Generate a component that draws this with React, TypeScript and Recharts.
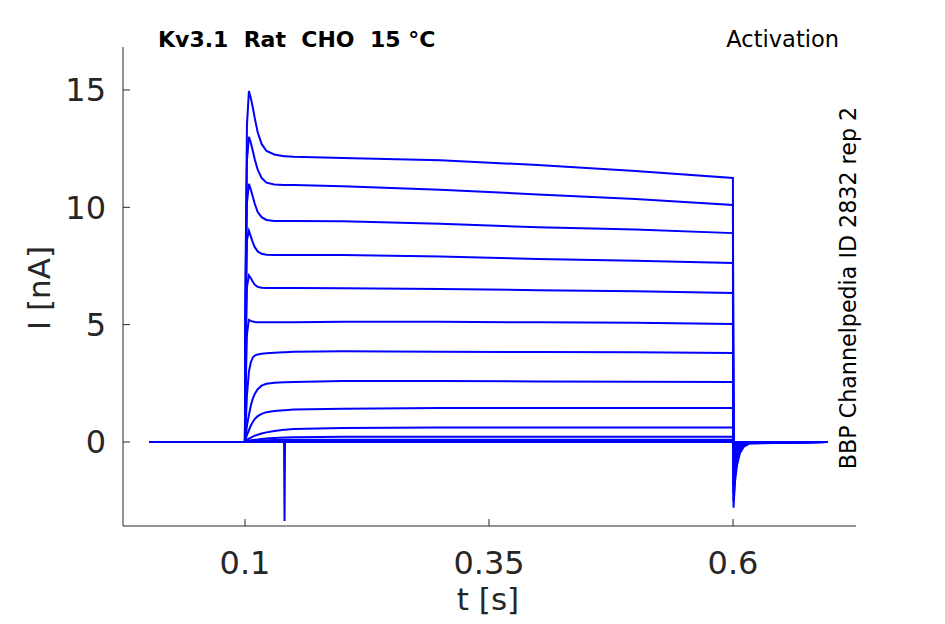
import { LineChart, Line, XAxis, YAxis, Label } from 'recharts';

// sample times (s)
const times = [
  0.002, 0.0999, 0.1005, 0.102, 0.104, 0.106, 0.108, 0.11, 0.113, 0.117, 0.122, 0.13, 0.14, 0.1405,
  0.141, 0.15, 0.2, 0.3, 0.4, 0.5, 0.5999, 0.6005, 0.602, 0.604, 0.607, 0.611, 0.617, 0.697,
];

// current traces (nA), one per voltage step
const trace1 = [0, 0, 7.0, 13.5, 14.95, 14.65, 14.25, 13.8, 13.2, 12.7, 12.4, 12.25, 12.18, 12.18, 12.18, 12.15, 12.1, 12.0, 11.8, 11.55, 11.25, -2.8, -1.7, -1.0, -0.48, -0.2, -0.06, 0];
const trace2 = [0, 0, 6.0, 12.0, 13.0, 12.75, 12.4, 12.05, 11.6, 11.25, 11.05, 10.97, 10.95, 10.95, 10.95, 10.95, 10.9, 10.75, 10.55, 10.35, 10.1, -2.5, -1.5, -0.88, -0.43, -0.18, -0.05, 0];
const trace3 = [0, 0, 5.0, 10.2, 11.0, 10.75, 10.45, 10.15, 9.8, 9.58, 9.46, 9.42, 9.42, 9.42, 9.42, 9.42, 9.4, 9.3, 9.15, 9.05, 8.9, -2.2, -1.3, -0.77, -0.37, -0.15, -0.04, 0];
const trace4 = [0, 0, 4.0, 8.6, 9.0, 8.75, 8.5, 8.3, 8.12, 8.02, 7.98, 7.97, 7.97, 7.97, 7.97, 7.97, 7.97, 7.9, 7.8, 7.72, 7.63, -1.9, -1.15, -0.66, -0.32, -0.13, -0.04, 0];
const trace5 = [0, 0, 3.0, 6.6, 7.1, 6.98, 6.83, 6.7, 6.61, 6.57, 6.56, 6.56, 6.56, 6.56, 6.56, 6.56, 6.55, 6.52, 6.47, 6.42, 6.35, -1.6, -0.96, -0.56, -0.27, -0.11, -0.03, 0];
const trace6 = [0, 0, 2.0, 4.6, 5.2, 5.16, 5.13, 5.11, 5.1, 5.1, 5.1, 5.1, 5.1, 5.1, 5.1, 5.1, 5.12, 5.12, 5.1, 5.08, 5.03, -1.3, -0.78, -0.45, -0.22, -0.09, -0.03, 0];
const trace7 = [0, 0, 0.5, 2.0, 3.0, 3.4, 3.6, 3.68, 3.73, 3.76, 3.78, 3.8, 3.82, 3.82, 3.82, 3.84, 3.87, 3.85, 3.83, 3.82, 3.79, -1.0, -0.6, -0.35, -0.17, -0.07, -0.02, 0];
const trace8 = [0, 0, 0.2, 0.7, 1.15, 1.55, 1.85, 2.05, 2.25, 2.4, 2.48, 2.52, 2.54, 2.54, 2.54, 2.56, 2.6, 2.6, 2.58, 2.57, 2.56, -0.7, -0.42, -0.25, -0.12, -0.05, -0.01, 0];
const trace9 = [0, 0, 0.1, 0.3, 0.5, 0.7, 0.85, 0.98, 1.1, 1.2, 1.27, 1.32, 1.35, 1.35, 1.35, 1.38, 1.42, 1.45, 1.45, 1.45, 1.45, -0.45, -0.27, -0.16, -0.08, -0.03, -0.01, 0];
const trace10 = [0, 0, 0.02, 0.08, 0.14, 0.19, 0.23, 0.27, 0.31, 0.36, 0.41, 0.47, 0.52, 0.52, 0.52, 0.55, 0.6, 0.62, 0.62, 0.62, 0.62, -0.25, -0.15, -0.09, -0.04, -0.02, 0, 0];
const trace11 = [0, 0, 0.01, 0.03, 0.05, 0.07, 0.08, 0.1, 0.11, 0.13, 0.15, 0.17, 0.19, 0.19, 0.19, 0.2, 0.22, 0.22, 0.22, 0.22, 0.22, -0.12, -0.07, -0.04, -0.02, -0.01, 0, 0];
const trace12 = [0, 0, 0, 0.01, 0.02, 0.03, 0.04, 0.05, 0.05, 0.06, 0.07, 0.08, 0.09, 0.09, 0.09, 0.09, 0.1, 0.1, 0.1, 0.1, 0.1, -0.06, -0.03, -0.02, -0.01, 0, 0, 0];
const trace13 = [0, 0, 0, 0, 0.01, 0.01, 0.01, 0.02, 0.02, 0.02, 0.03, 0.03, 0.04, 0.04, 0.04, 0.04, 0.05, 0.05, 0.05, 0.05, 0.05, -0.03, -0.02, -0.01, 0, 0, 0, 0];
const trace14 = [0, 0, 0, 0, 0, 0, 0, 0, 0, 0, 0, 0, 0, -3.37, 0, 0, 0, 0, 0, 0, 0, -0.02, -0.01, 0, 0, 0, 0, 0];

const traces = [trace1, trace2, trace3, trace4, trace5, trace6, trace7, trace8, trace9, trace10, trace11, trace12, trace13, trace14];

const xTicks = [0.1, 0.35, 0.6];
const yTicks = [0, 5, 10, 15];

const data = times.map((t, i) => {
  const row: Record<string, number> = { t };
  traces.forEach((tr, k) => {
    row['s' + k] = tr[i];
  });
  return row;
});

const font = '"DejaVu Sans", sans-serif';
const ink = '#262626';

export default function App() {
  return (
    <div style={{ position: 'absolute', left: 0, top: 0, width: 945, height: 624, background: '#fff' }}>
      <LineChart width={945} height={624} data={data} margin={{ top: 47, right: 89, bottom: 38, left: 0 }}>
        <XAxis
          dataKey="t"
          type="number"
          domain={[-0.025, 0.726]}
          allowDataOverflow
          ticks={xTicks}
          tickFormatter={(v) => String(v)}
          height={60}
          stroke={ink}
          tickSize={-7}
          tickMargin={32}
          tick={{ fontSize: 32, fill: ink, fontFamily: font }}
        >
          <Label
            content={() => (
              <text x={488} y={610} textAnchor="middle" fontSize={31} fill={ink} fontFamily={font}>
                t [s]
              </text>
            )}
          />
        </XAxis>
        <YAxis
          type="number"
          domain={[-3.58, 16.83]}
          allowDataOverflow
          ticks={yTicks}
          width={123}
          stroke={ink}
          tickSize={-7}
          tickMargin={24}
          tick={{ fontSize: 32, fill: ink, fontFamily: font }}
        >
          <Label
            content={() => (
              <text
                x={50}
                y={288}
                textAnchor="middle"
                fontSize={31}
                fill={ink}
                fontFamily={font}
                transform="rotate(-90 50 288)"
              >
                I [nA]
              </text>
            )}
          />
        </YAxis>
        {traces.map((_, k) => (
          <Line
            key={k}
            dataKey={'s' + k}
            type="linear"
            stroke="#0000ff"
            strokeWidth={2}
            dot={false}
            isAnimationActive={false}
          />
        ))}
      </LineChart>
      <svg width={945} height={624} style={{ position: 'absolute', left: 0, top: 0, pointerEvents: 'none' }}>
        <text x={158} y={47} fontSize={22} fontWeight="bold" fill="#000" fontFamily={font} style={{ whiteSpace: 'pre' }}>
          {'Kv3.1  Rat  CHO  15 °C'}
        </text>
        <text x={839} y={47} textAnchor="end" fontSize={22.5} fill="#000" fontFamily={font}>
          Activation
        </text>
        <text
          x={856}
          y={288}
          textAnchor="middle"
          fontSize={22.2}
          fill="#000"
          fontFamily={font}
          transform="rotate(-90 856 288)"
        >
          BBP Channelpedia ID 2832 rep 2
        </text>
      </svg>
    </div>
  );
}
